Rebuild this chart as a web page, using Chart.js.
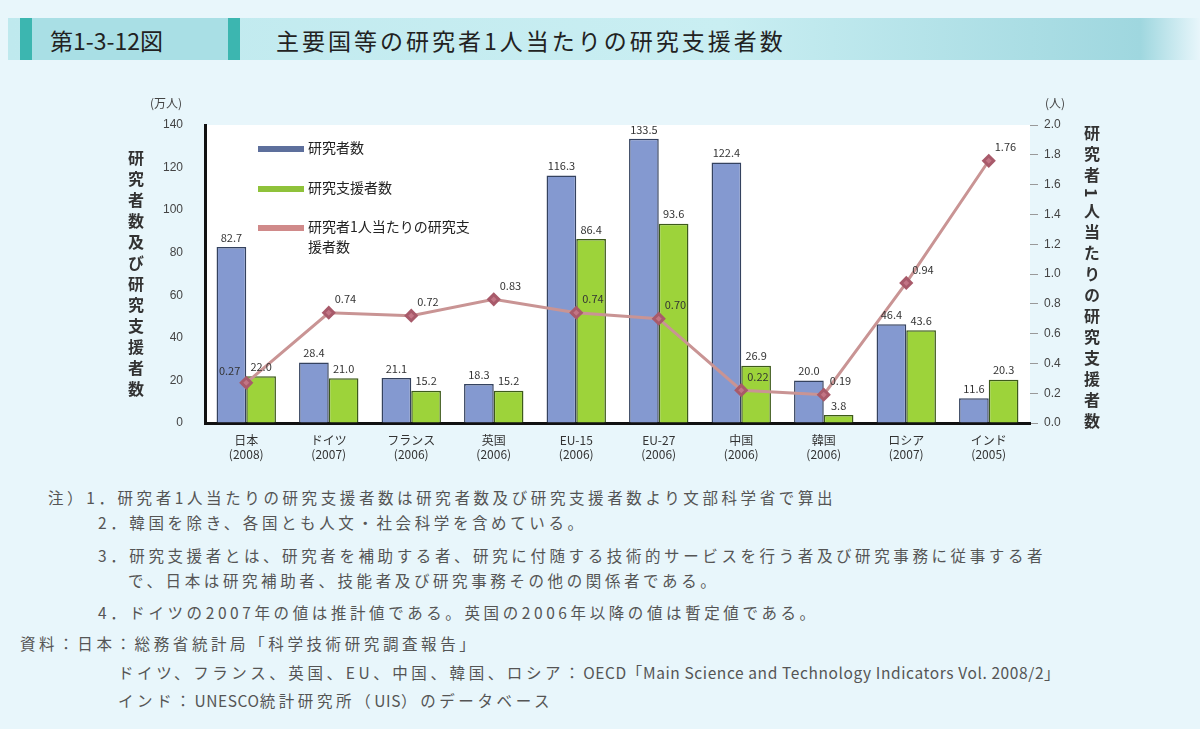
<!DOCTYPE html>
<html lang="ja">
<head>
<meta charset="utf-8">
<script src="https://cdn.jsdelivr.net/npm/chart.js@4.4.1/dist/chart.umd.min.js"></script>
<style>
  body { margin: 0; width: 1200px; height: 729px; background: #e8f6fb; font-family: "Noto Sans CJK JP", "Noto Sans", sans-serif; position: relative; overflow: hidden; }
  .titlebar { position: absolute; left: 8px; top: 18px; width: 1192px; height: 42px;
    background: linear-gradient(to right, #bfe9ee 0%, #c9eef2 60%, #9fd7df 95%, #e8f6fb 100%); }
  .tag { position: absolute; left: 12px; top: 0; height: 42px; width: 220px; background: #a9dfe5; }
  .tag:before, .tag:after { content: ""; position: absolute; top: 0; width: 12px; height: 42px; background: #3cb6b0; }
  .tag:before { left: 0; } .tag:after { right: 0; }
  .tagtext { position: absolute; left: 30px; top: 5px; font-size: 23px; color: #222; }
  .titletext { position: absolute; left: 268px; top: 5px; font-size: 23px; color: #222; letter-spacing: 3px; }
  .plotbg { position: absolute; left: 205px; top: 125px; width: 825px; height: 298px; background: #fff; }
  canvas { position: absolute; left: 0; top: 80px; }
  .vtitle { position: absolute; writing-mode: vertical-rl; font-size: 16px; font-weight: bold; color: #333; letter-spacing: 5px; }
  .unit { position: absolute; font-size: 12px; color: #444; }
  .legend { position: absolute; left: 258px; font-size: 14px; color: #222; }
  .legend i { display: inline-block; width: 46px; height: 6px; vertical-align: middle; margin-right: 4px; }
  .notes { position: absolute; left: 0; top: 484px; width: 1200px; font-size: 15.5px; color: #555; letter-spacing: 3.6px; }
  .notes div { position: absolute; white-space: nowrap; }
  .notes .en { letter-spacing: 0.6px; }
</style>
</head>
<body>
<div class="titlebar">
  <div class="tag"><span class="tagtext">第1-3-12図</span></div>
  <span class="titletext">主要国等の研究者1人当たりの研究支援者数</span>
</div>
<div class="plotbg"></div>
<canvas id="chart" width="1200" height="400"></canvas>
<div class="unit" style="left:150px;top:94px;">(万人)</div>
<div class="unit" style="left:1045px;top:94px;">(人)</div>
<div class="vtitle" style="left:124px;top:150px;">研究者数及び研究支援者数</div>
<div class="vtitle" style="left:1080px;top:125px;">研究者1人当たりの研究支援者数</div>
<div class="legend" style="top:137px;"><i style="background:#5d6f9c;"></i>研究者数</div>
<div class="legend" style="top:177px;"><i style="background:#8fc23a;"></i>研究支援者数</div>
<div class="legend" style="top:216px;"><i style="background:#d08a8a;"></i>研究者1人当たりの研究支<br><span style="padding-left:50px;">援者数</span></div>
<div class="notes">
  <div style="left:48px;top:2px;">注）1．研究者1人当たりの研究支援者数は研究者数及び研究支援者数より文部科学省で算出</div>
  <div style="left:98px;top:27px;">2．韓国を除き、各国とも人文・社会科学を含めている。</div>
  <div style="left:98px;top:60px;">3．研究支援者とは、研究者を補助する者、研究に付随する技術的サービスを行う者及び研究事務に従事する者</div>
  <div style="left:128px;top:85px;">で、日本は研究補助者、技能者及び研究事務その他の関係者である。</div>
  <div style="left:98px;top:117px;">4．ドイツの2007年の値は推計値である。英国の2006年以降の値は暫定値である。</div>
  <div style="left:20px;top:148px;">資料：日本：総務省統計局「科学技術研究調査報告」</div>
  <div style="left:118px;top:177px;">ドイツ、フランス、英国、EU、中国、韓国、ロシア：<span class="en">OECD「Main Science and Technology Indicators Vol. 2008/2」</span></div>
  <div style="left:118px;top:205px;">インド：<span class="en">UNESCO</span>統計研究所（<span class="en">UIS</span>）のデータベース</div>
</div>
<script>
// data
const categories = [
  ['日本', '(2008)'], ['ドイツ', '(2007)'], ['フランス', '(2006)'], ['英国', '(2006)'],
  ['EU-15', '(2006)'], ['EU-27', '(2006)'], ['中国', '(2006)'], ['韓国', '(2006)'],
  ['ロシア', '(2007)'], ['インド', '(2005)']
];
const researchers = [82.7, 28.4, 21.1, 18.3, 116.3, 133.5, 122.4, 20.0, 46.4, 11.6];
const supportStaff = [22.0, 21.0, 15.2, 15.2, 86.4, 93.6, 26.9, 3.8, 43.6, 20.3];
const supportPerResearcher = [0.27, 0.74, 0.72, 0.83, 0.74, 0.70, 0.22, 0.19, 0.94, 1.76];
const leftTicks = [0, 20, 40, 60, 80, 100, 120, 140];
const rightTicks = [0, 0.2, 0.4, 0.6, 0.8, 1.0, 1.2, 1.4, 1.6, 1.8, 2.0];

// draws the value labels above bars and points
const valueLabels = {
  id: 'valueLabels',
  afterDatasetsDraw(chart) {
    const ctx = chart.ctx;
    ctx.save();
    ctx.font = '11px "Noto Sans CJK JP", sans-serif';
    ctx.fillStyle = '#333';
    ctx.textBaseline = 'bottom';
    chart.data.datasets.forEach((ds, i) => {
      const meta = chart.getDatasetMeta(i);
      meta.data.forEach((el, j) => {
        const v = ds.data[j];
        if (ds.type === 'line') {
          // ratio labels sit up and to the right of the marker,
          // the first one goes left so it does not sit on the bar label
          if (j === 0) {
            ctx.textAlign = 'right';
            ctx.fillText(v.toFixed(2), el.x - 6, el.y - 6);
          } else {
            ctx.textAlign = 'left';
            ctx.fillText(v.toFixed(2), el.x + 6, el.y - 8);
          }
        } else {
          ctx.textAlign = 'center';
          ctx.fillText(v.toFixed(1), el.x, el.y - 4);
        }
      });
    });
    ctx.restore();
  }
};

const ctx = document.getElementById('chart').getContext('2d');
const chart = new Chart(ctx, {
  type: 'bar',
  data: {
    labels: categories,
    datasets: [
      {
        label: '研究者1人当たりの研究支援者数',
        type: 'line',
        data: supportPerResearcher,
        yAxisID: 'y1',
        borderColor: '#c99494',
        borderWidth: 3,
        pointStyle: 'rectRot',
        pointRadius: 5,
        pointBackgroundColor: '#c27585',
        pointBorderColor: '#a85a6a',
        order: 0
      },
      {
        label: '研究者数',
        data: researchers,
        yAxisID: 'y',
        backgroundColor: '#8499d0',
        borderColor: '#34425f',
        borderWidth: 1.5,
        categoryPercentage: 0.72,
        barPercentage: 1.0,
        order: 1
      },
      {
        label: '研究支援者数',
        data: supportStaff,
        yAxisID: 'y',
        backgroundColor: '#9dd33a',
        borderColor: '#3d5a1a',
        borderWidth: 1.5,
        categoryPercentage: 0.72,
        barPercentage: 1.0,
        order: 1
      }
    ]
  },
  options: {
    responsive: false,
    animation: false,
    layout: { padding: { top: 45, left: 0, right: 0, bottom: 0 } },
    scales: {
      x: {
        grid: { display: false },
        border: { color: '#111', width: 3 },
        ticks: { color: '#333', font: { size: 12, family: '"Noto Sans CJK JP", sans-serif' }, padding: 2 },
        afterFit(scale) { scale.height = 57; }
      },
      y: {
        position: 'left',
        min: 0,
        max: 140,
        afterBuildTicks(scale) { scale.ticks = leftTicks.map(v => ({ value: v })); },
        grid: { drawOnChartArea: false, drawTicks: false },
        border: { color: '#111', width: 3 },
        ticks: { color: '#444', font: { size: 12 }, padding: 22 },
        afterFit(scale) { scale.width = 205; }
      },
      y1: {
        position: 'right',
        min: 0,
        max: 2.0,
        afterBuildTicks(scale) { scale.ticks = rightTicks.map(v => ({ value: v })); },
        grid: { drawOnChartArea: false, tickLength: 8, color: '#999' },
        border: { display: false },
        ticks: { color: '#444', font: { size: 12 }, padding: 6, callback: v => v.toFixed(1) },
        afterFit(scale) { scale.width = 170; }
      }
    },
    plugins: {
      legend: { display: false },
      tooltip: { enabled: false }
    }
  },
  plugins: [valueLabels]
});
</script>
</body>
</html>
